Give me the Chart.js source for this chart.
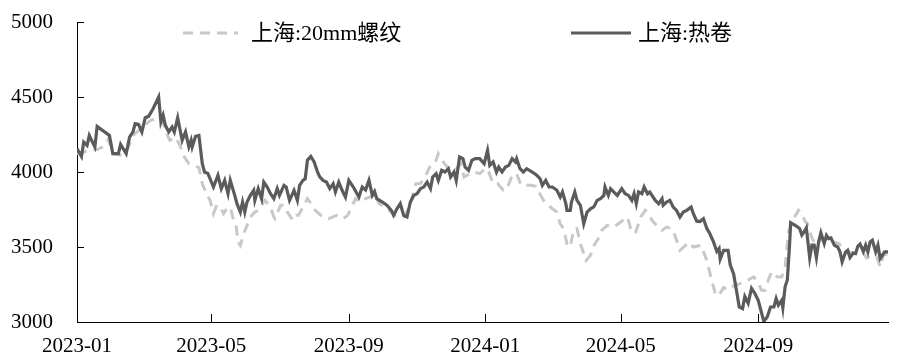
<!DOCTYPE html>
<html>
<head>
<meta charset="utf-8">
<script src="https://cdn.jsdelivr.net/npm/chart.js@4.4.1/dist/chart.umd.min.js"></script>
<style>
html,body{margin:0;padding:0;background:#fff;}
#wrap{width:900px;height:362px;position:relative;}
</style>
</head>
<body>
<div id="wrap"><canvas id="c" width="900" height="362"></canvas></div>
<script>
// Day offsets are days since 2023-01-01
const seriesNames = ['上海:20mm螺纹', '上海:热卷'];
const tickDays = [0, 120, 243, 365, 486, 609];
const tickLabels = ['2023-01', '2023-05', '2023-09', '2024-01', '2024-05', '2024-09'];
const yTicks = [3000, 3500, 4000, 4500, 5000];

const rebarDays = [0,5,10,18,25,28,32,41,46,50,59,65,71,76,80,83,88,92,95,100,104,109,112,116,119,122,125,128,131,133,137,140,142,144,146,149,152,155,159,162,166,168,173,176,177,182,185,188,193,196,198,206,210,213,218,225,232,238,242,249,253,258,264,266,270,276,285,292,297,303,307,312,316,320,323,326,331,338,343,346,351,355,360,365,367,372,376,381,384,389,393,397,402,406,410,417,421,425,429,432,435,438,441,444,447,450,452,455,459,463,466,469,474,478,481,485,488,492,495,499,504,508,511,514,518,523,527,532,535,539,544,547,551,554,558,561,563,567,571,574,578,582,587,594,600,605,609,612,615,618,621,626,630,633,636,639,645,648,651,653,656,660,666,672,677,681,684,690,696,702,706,711,715,718,721,725];
const rebarPrices = [4122,4130,4145,4150,4175,4220,4122,4110,4167,4244,4300,4340,4360,4356,4256,4211,4230,4180,4110,4056,4044,4030,3922,3850,3811,3722,3780,3767,3722,3745,3767,3678,3655,3533,3510,3589,3644,3700,3733,3744,3790,3811,3767,3700,3689,3778,3778,3733,3678,3711,3711,3823,3780,3745,3711,3689,3711,3689,3711,3822,3800,3822,3840,3856,3789,3760,3711,3700,3760,3922,3923,3980,4044,4060,4122,4080,4033,4011,4055,3967,3989,4000,3989,4022,4022,3922,3923,3878,3880,3978,3989,3911,3911,3912,3905,3811,3780,3755,3733,3655,3622,3522,3500,3620,3622,3522,3478,3410,3444,3522,3555,3611,3644,3633,3640,3660,3678,3700,3622,3589,3700,3744,3722,3678,3644,3611,3633,3622,3567,3478,3511,3533,3500,3505,3512,3450,3411,3290,3178,3180,3230,3215,3240,3260,3280,3300,3260,3212,3211,3280,3334,3301,3300,3360,3600,3667,3745,3723,3670,3656,3578,3512,3556,3534,3534,3523,3501,3467,3456,3467,3428,3434,3434,3367,3445,3456];

const hrcDays = [0,4,6,9,11,13,16,18,29,32,37,39,44,47,50,52,55,58,61,64,68,73,75,77,79,82,85,87,90,94,97,100,102,103,106,109,112,114,117,122,126,129,132,135,137,141,143,146,148,150,152,155,158,159,162,165,167,170,173,176,179,181,185,187,190,194,197,199,202,204,206,209,212,215,217,220,223,226,229,231,234,237,240,243,247,252,255,258,261,264,266,268,273,277,281,283,286,289,292,295,298,301,304,307,310,313,316,318,321,323,326,329,332,334,337,339,342,345,347,350,353,356,360,364,367,369,372,375,377,380,383,386,389,392,393,396,399,402,407,411,414,416,419,422,425,429,432,434,437,438,441,442,445,447,450,453,456,459,462,465,468,471,472,475,477,480,483,487,490,493,496,498,500,502,505,507,510,512,514,517,520,523,524,527,530,533,536,539,542,545,549,551,554,557,560,563,566,569,572,574,575,578,582,584,587,590,592,595,597,600,603,606,609,612,614,617,620,623,625,627,630,631,633,635,637,638,642,646,648,650,652,655,657,659,661,663,665,668,670,672,674,677,680,682,684,687,689,691,694,696,698,700,703,705,707,709,711,714,716,718,720,722,725];
const hrcPrices = [4156,4104,4200,4178,4244,4211,4167,4304,4244,4122,4122,4184,4122,4233,4267,4322,4318,4267,4362,4371,4422,4500,4333,4378,4311,4267,4300,4267,4362,4211,4267,4167,4211,4167,4238,4244,4056,4000,3990,3900,3978,3889,3944,3855,3944,3844,3789,3733,3800,3733,3800,3844,3878,3811,3889,3822,3933,3900,3855,3822,3889,3844,3911,3900,3811,3878,3811,3911,3944,3955,4078,4104,4067,4000,3967,3944,3933,3889,3922,3867,3933,3878,3833,3944,3900,3833,3900,3880,3944,3844,3870,3822,3800,3778,3744,3711,3755,3789,3711,3700,3800,3844,3855,3889,3900,3933,3889,3967,3989,3944,4011,4000,4022,3967,4000,3944,4100,4089,4033,4011,4078,4089,4089,4055,4144,4044,4067,4000,4033,4000,4033,4044,4089,4067,4089,4022,4000,4022,4000,3978,3955,3911,3944,3900,3900,3878,3833,3867,3789,3744,3744,3800,3867,3811,3778,3655,3733,3755,3767,3811,3822,3844,3900,3844,3889,3866,3844,3889,3855,3844,3811,3855,3789,3867,3855,3900,3855,3866,3844,3811,3789,3822,3778,3800,3811,3766,3744,3700,3733,3744,3766,3722,3672,3670,3689,3625,3585,3534,3470,3490,3420,3478,3478,3380,3320,3190,3100,3089,3170,3125,3225,3190,3145,3060,3003,3034,3100,3100,3156,3112,3145,3095,3235,3280,3512,3662,3645,3623,3580,3600,3628,3428,3512,3512,3428,3534,3595,3523,3578,3556,3560,3512,3500,3470,3401,3465,3478,3430,3460,3456,3505,3520,3470,3512,3467,3534,3545,3467,3512,3423,3445,3467,3467];

const toPoints = (xs, ys) => xs.map((d, i) => ({x: d, y: ys[i]}));

const REBAR_COLOR = '#c8c8c8';
const HRC_COLOR = '#5b5b5b';
const FONT = '"Liberation Serif", "Times New Roman", "Noto Sans CJK SC", serif';

const innerTicks = {
  id: 'innerTicks',
  afterDraw(chart) {
    const {ctx, chartArea} = chart;
    const xs = chart.scales.x, ys = chart.scales.y;
    ctx.save();
    ctx.strokeStyle = '#000';
    ctx.lineWidth = 1;
    ctx.beginPath();
    ys.ticks.forEach(t => {
      const py = Math.round(ys.getPixelForValue(t.value)) + 0.5;
      ctx.moveTo(chartArea.left, py);
      ctx.lineTo(chartArea.left + 7, py);
    });
    xs.ticks.forEach(t => {
      const px = Math.round(xs.getPixelForValue(t.value)) + 0.5;
      ctx.moveTo(px, chartArea.bottom);
      ctx.lineTo(px, chartArea.bottom - 8);
    });
    ctx.stroke();
    ctx.restore();
  }
};

const customLegend = {
  id: 'customLegend',
  afterDraw(chart, args, opts) {
    const {ctx} = chart;
    ctx.save();
    ctx.font = opts.fontSize + 'px ' + FONT;
    ctx.textBaseline = 'middle';
    ctx.fillStyle = '#000';
    opts.items.forEach(item => {
      const ds = chart.data.datasets[item.dataset];
      ctx.beginPath();
      ctx.setLineDash(ds.borderDash || []);
      ctx.strokeStyle = ds.borderColor;
      ctx.lineWidth = ds.borderWidth;
      ctx.moveTo(item.x0, opts.y);
      ctx.lineTo(item.x1, opts.y);
      ctx.stroke();
      ctx.setLineDash([]);
      ctx.fillText(ds.label, item.tx, opts.y + 1);
    });
    ctx.restore();
  }
};

new Chart(document.getElementById('c'), {
  type: 'line',
  data: {
    datasets: [
      {
        label: seriesNames[0],
        data: toPoints(rebarDays, rebarPrices),
        borderColor: REBAR_COLOR,
        backgroundColor: REBAR_COLOR,
        borderWidth: 3,
        borderDash: [10, 7],
        pointRadius: 0,
        tension: 0,
        order: 2
      },
      {
        label: seriesNames[1],
        data: toPoints(hrcDays, hrcPrices),
        borderColor: HRC_COLOR,
        backgroundColor: HRC_COLOR,
        borderWidth: 3.2,
        pointRadius: 0,
        tension: 0,
        order: 1
      }
    ]
  },
  options: {
    responsive: false,
    animation: false,
    devicePixelRatio: 1,
    layout: {padding: {left: 11, right: 12, top: 22, bottom: 0}},
    plugins: {
      legend: {display: false},
      tooltip: {enabled: false},
      customLegend: {
        y: 33,
        fontSize: 22,
        items: [
          {dataset: 0, x0: 183, x1: 238, tx: 251},
          {dataset: 1, x0: 571, x1: 631, tx: 638}
        ]
      }
    },
    scales: {
      x: {
        type: 'linear',
        min: 0,
        max: 725,
        afterBuildTicks: (scale) => { scale.ticks = tickDays.map(v => ({value: v})); },
        afterFit: (scale) => { scale.height = 40; scale.paddingLeft = 0; scale.paddingRight = 0; },
        ticks: {
          autoSkip: false,
          maxRotation: 0,
          padding: 12,
          color: '#000',
          font: {family: FONT, size: 21},
          callback: (v) => tickLabels[tickDays.indexOf(v)] ?? ''
        },
        grid: {display: true, drawOnChartArea: false, drawTicks: false},
        border: {display: true, color: '#000', width: 1}
      },
      y: {
        type: 'linear',
        min: 3000,
        max: 5000,
        afterBuildTicks: (scale) => { scale.ticks = yTicks.map(v => ({value: v})); },
        afterFit: (scale) => { scale.width = 66; scale.paddingTop = 0; scale.paddingBottom = 0; },
        ticks: {
          padding: 24,
          color: '#000',
          font: {family: FONT, size: 21},
          callback: (v) => String(v)
        },
        grid: {display: true, drawOnChartArea: false, drawTicks: false},
        border: {display: true, color: '#000', width: 1}
      }
    }
  },
  plugins: [innerTicks, customLegend]
});
</script>
</body>
</html>
